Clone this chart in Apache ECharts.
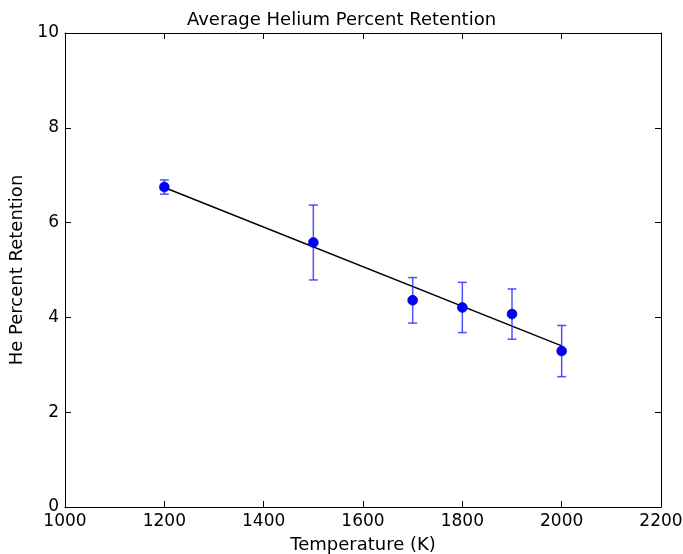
<!DOCTYPE html>
<html>
<head>
<meta charset="utf-8">
<script src="https://cdn.jsdelivr.net/npm/echarts@6/dist/echarts.min.js"></script>
<style>html,body{margin:0;padding:0;background:#fff}#c{width:683px;height:554px}</style>
</head>
<body>
<div id="c"></div>
<script>
var temperatures = [1200, 1500, 1700, 1800, 1900, 2000];
var retention = [6.75, 5.58, 4.36, 4.21, 4.07, 3.29];
var errors = [0.15, 0.79, 0.48, 0.53, 0.53, 0.54];
var fitX = [1200, 2000];
var fitY = [6.74, 3.40];
var xTicks = [1000, 2200, 200];
var yTicks = [0, 10, 2];

var font = 'DejaVu Sans';
var pts = temperatures.map(function (t, i) { return [t, retention[i]]; });
var errData = temperatures.map(function (t, i) { return [t, retention[i] - errors[i], retention[i] + errors[i]]; });
var fitData = fitX.map(function (x, i) { return [x, fitY[i]]; });
function plain(v) { return String(v); }

var axisCommon = {
  type: 'value',
  axisLine: { show: true, onZero: false, lineStyle: { color: '#000', width: 1 } },
  axisTick: { show: true, inside: true, length: 6, lineStyle: { color: '#000' } },
  splitLine: { show: false }
};

var chart = echarts.init(document.getElementById('c'));
chart.setOption({
  animation: false,
  backgroundColor: '#fff',
  title: {
    text: 'Average Helium Percent Retention',
    left: 'center', top: 6,
    textStyle: { fontFamily: font, fontSize: 18, fontWeight: 'normal', color: '#000' }
  },
  grid: { left: 65, right: 22, top: 33, bottom: 47, containLabel: false, outerBoundsMode: 'none' },
  xAxis: [
    Object.assign({}, axisCommon, {
      min: xTicks[0], max: xTicks[1], interval: xTicks[2], position: 'bottom',
      name: 'Temperature (K)', nameLocation: 'middle', nameGap: 29,
      nameTextStyle: { fontFamily: font, fontSize: 18, color: '#000' },
      axisLabel: { fontFamily: font, fontSize: 17, color: '#000', margin: 6, formatter: plain }
    }),
    Object.assign({}, axisCommon, {
      min: xTicks[0], max: xTicks[1], interval: xTicks[2], position: 'top',
      axisLabel: { show: false }
    })
  ],
  yAxis: [
    Object.assign({}, axisCommon, {
      min: yTicks[0], max: yTicks[1], interval: yTicks[2], position: 'left',
      name: 'He Percent Retention', nameLocation: 'middle', nameGap: 30,
      nameTextStyle: { fontFamily: font, fontSize: 18, color: '#000' },
      axisLabel: { fontFamily: font, fontSize: 17, color: '#000', margin: 6, formatter: plain }
    }),
    Object.assign({}, axisCommon, {
      min: yTicks[0], max: yTicks[1], interval: yTicks[2], position: 'right',
      axisLabel: { show: false }
    })
  ],
  series: [
    {
      type: 'line', data: fitData, showSymbol: false, symbol: 'none',
      lineStyle: { color: '#000', width: 1.5 }, z: 2
    },
    {
      type: 'custom', data: errData, z: 3,
      renderItem: function (params, api) {
        var x = api.value(0);
        var lo = api.coord([x, api.value(1)]);
        var hi = api.coord([x, api.value(2)]);
        var w = 4.5;
        var st = { stroke: 'rgba(40,40,255,0.8)', lineWidth: 1.5 };
        return {
          type: 'group',
          children: [
            { type: 'line', shape: { x1: lo[0], y1: lo[1], x2: hi[0], y2: hi[1] }, style: st },
            { type: 'line', shape: { x1: lo[0] - w, y1: lo[1], x2: lo[0] + w, y2: lo[1] }, style: st },
            { type: 'line', shape: { x1: hi[0] - w, y1: hi[1], x2: hi[0] + w, y2: hi[1] }, style: st }
          ]
        };
      }
    },
    {
      type: 'scatter', data: pts, symbol: 'circle', symbolSize: 10, z: 4,
      itemStyle: { color: '#0000ff', borderColor: '#00007f', borderWidth: 0.5, opacity: 1 }
    }
  ]
});
</script>
</body>
</html>
